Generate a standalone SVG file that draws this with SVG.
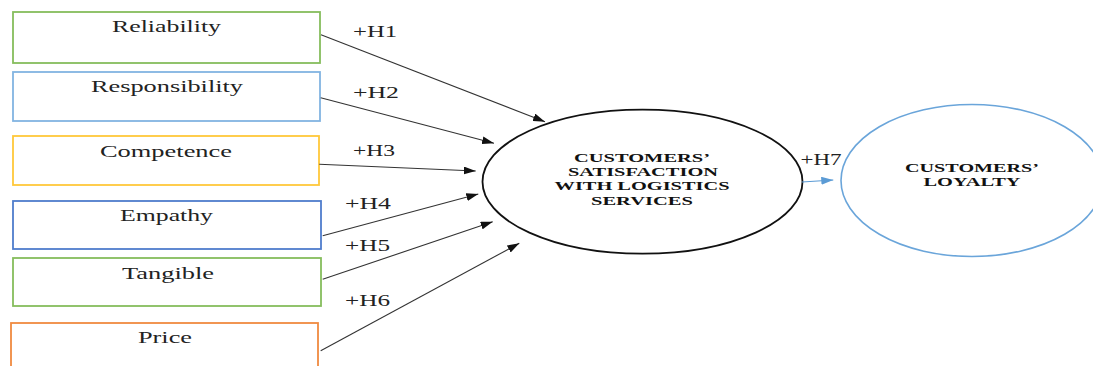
<svg xmlns="http://www.w3.org/2000/svg" width="1093" height="366" viewBox="0 0 1093 366">
<style>
.box{fill:#fff;stroke-width:1.8}
.lbl{font-family:"Liberation Serif","Times New Roman",serif;font-size:16px;fill:#222}
.ell{font-family:"Liberation Serif","Times New Roman",serif;font-size:13px;font-weight:bold;fill:#111}
.conn{stroke:#333;stroke-width:1.1;fill:none;marker-end:url(#ah)}
</style>
<defs>
<marker id="ah" markerUnits="userSpaceOnUse" markerWidth="12" markerHeight="8" refX="12" refY="4" orient="auto"><path d="M0,0 L12,4 L0,8 z" fill="#111"/></marker>
<marker id="ahb" markerUnits="userSpaceOnUse" markerWidth="12" markerHeight="8" refX="12" refY="4" orient="auto"><path d="M0,0 L12,4 L0,8 z" fill="#5b9bd5"/></marker>
</defs>
<rect width="1093" height="366" fill="#fff"/>
<g id="reliability"><rect class="box" x="13" y="12" width="307" height="51" stroke="#86bd5c"/><text class="lbl" x="112" y="32" textLength="109" lengthAdjust="spacingAndGlyphs">Reliability</text></g>
<g id="responsibility"><rect class="box" x="13" y="72" width="307" height="49" stroke="#82b4e2"/><text class="lbl" x="91" y="92" textLength="152" lengthAdjust="spacingAndGlyphs">Responsibility</text></g>
<g id="competence"><rect class="box" x="13" y="136" width="306" height="49" stroke="#ffc83a"/><text class="lbl" x="100" y="157" textLength="132" lengthAdjust="spacingAndGlyphs">Competence</text></g>
<g id="empathy"><rect class="box" x="13" y="201" width="308" height="48" stroke="#4f7dcc"/><text class="lbl" x="120" y="221" textLength="93" lengthAdjust="spacingAndGlyphs">Empathy</text></g>
<g id="tangible"><rect class="box" x="13" y="258" width="308" height="48" stroke="#86bd5c"/><text class="lbl" x="122" y="279" textLength="92" lengthAdjust="spacingAndGlyphs">Tangible</text></g>
<g id="price"><rect class="box" x="11" y="323" width="307" height="60" stroke="#f08a40"/><text class="lbl" x="138" y="342.5" textLength="54" lengthAdjust="spacingAndGlyphs">Price</text></g>
<g id="satisfaction"><ellipse cx="642.5" cy="181.7" rx="160" ry="72" fill="#fff" stroke="#111" stroke-width="1.8"/>
<text class="ell" x="574" y="161.5" textLength="136" lengthAdjust="spacingAndGlyphs">CUSTOMERS’</text>
<text class="ell" x="568" y="175.5" textLength="150" lengthAdjust="spacingAndGlyphs">SATISFACTION</text>
<text class="ell" x="554.5" y="190" textLength="175" lengthAdjust="spacingAndGlyphs">WITH LOGISTICS</text>
<text class="ell" x="591" y="205" textLength="102" lengthAdjust="spacingAndGlyphs">SERVICES</text></g>
<g id="loyalty"><ellipse cx="972" cy="180.5" rx="131" ry="76" fill="#fff" stroke="#6aa5da" stroke-width="1.6"/>
<text class="ell" x="905" y="171.5" textLength="134" lengthAdjust="spacingAndGlyphs">CUSTOMERS’</text>
<text class="ell" x="923.5" y="185.5" textLength="97" lengthAdjust="spacingAndGlyphs">LOYALTY</text></g>
<g id="connectors">
<line class="conn" x1="321" y1="34.7" x2="545" y2="121.7"/>
<line class="conn" x1="320.7" y1="97.7" x2="494" y2="143.3"/>
<line class="conn" x1="319.3" y1="164.3" x2="475.7" y2="171"/>
<line class="conn" x1="322.7" y1="235.7" x2="478.3" y2="194"/>
<line class="conn" x1="322.7" y1="279.3" x2="492.7" y2="221.7"/>
<line class="conn" x1="320.7" y1="350.7" x2="519.3" y2="243.3"/>
<line x1="802" y1="182" x2="833.3" y2="180" stroke="#5b9bd5" stroke-width="1.1" marker-end="url(#ahb)"/>
<text class="lbl" x="353" y="37.3" textLength="44" lengthAdjust="spacingAndGlyphs">+H1</text>
<text class="lbl" x="353" y="98.3" textLength="46" lengthAdjust="spacingAndGlyphs">+H2</text>
<text class="lbl" x="353" y="156" textLength="42" lengthAdjust="spacingAndGlyphs">+H3</text>
<text class="lbl" x="345" y="209.3" textLength="46" lengthAdjust="spacingAndGlyphs">+H4</text>
<text class="lbl" x="345" y="250.7" textLength="45" lengthAdjust="spacingAndGlyphs">+H5</text>
<text class="lbl" x="345" y="306" textLength="45" lengthAdjust="spacingAndGlyphs">+H6</text>
<text class="lbl" x="800.5" y="164.5" textLength="41" lengthAdjust="spacingAndGlyphs">+H7</text>
</g>
</svg>
